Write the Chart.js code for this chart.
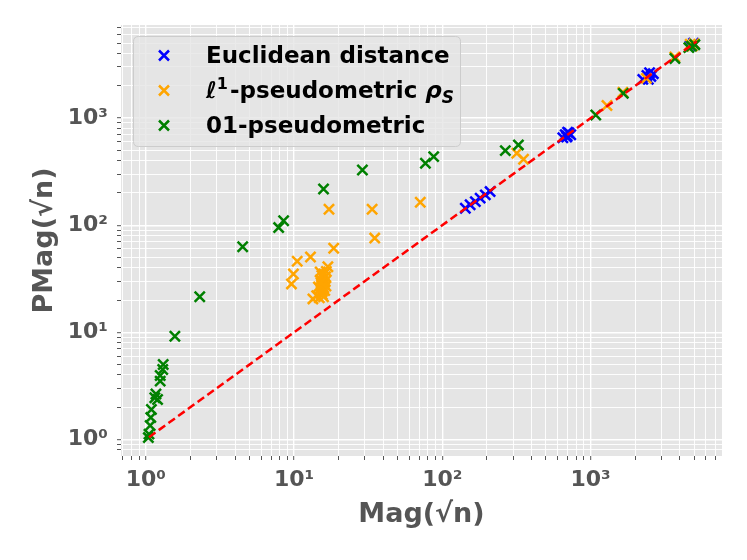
<!DOCTYPE html>
<html>
<head>
<meta charset="utf-8">
<script src="https://cdn.jsdelivr.net/npm/chart.js@4.4.0/dist/chart.umd.min.js"></script>
<style>
  html, body { margin: 0; padding: 0; background: #ffffff; }
</style>
</head>
<body>
<canvas id="magCanvas" width="747" height="560"></canvas>
<script>
// [Mag, PMag] pairs
var euclideanPoints = [
  [143, 144], [154, 155], [167, 166], [180, 179], [195, 192], [210, 206],
  [650, 655], [675, 700], [695, 680], [715, 725], [735, 700], [700, 740], [690, 665],
  [2250, 2300], [2400, 2500], [2550, 2450], [2450, 2300], [2650, 2600], [2500, 2650],
  [4700, 4750], [4950, 5000]
];

var l1Points = [
  [9.6, 28.3], [9.9, 35], [10.5, 46], [12.9, 50.4], [17.2, 141], [18.5, 61],
  [33.6, 141], [35, 75.8], [71, 164], [318, 470], [353, 413],
  [13.4, 20.5], [14.2, 22], [14.8, 21], [15.2, 23], [15.5, 24], [15.0, 25.5],
  [15.8, 26], [15.3, 27.5], [16.0, 28], [15.6, 29.5], [16.2, 30], [15.1, 31],
  [15.7, 32], [16.3, 33], [15.4, 34], [15.9, 35], [15.0, 36.5], [16.5, 37],
  [16.9, 41], [15.5, 22.5], [16.1, 24.5], [14.6, 26.5], [16.4, 27], [15.2, 29],
  [15.8, 21.5],
  [1290, 1310], [1650, 1740], [2380, 2350], [3700, 3730],
  [4700, 4900], [5000, 4950], [4850, 4700]
];

var zeroOnePoints = [
  [1.04, 1.04], [1.05, 1.12], [1.07, 1.35], [1.08, 1.6], [1.09, 1.9],
  [1.15, 2.45], [1.20, 2.36], [1.17, 2.65], [1.25, 3.5], [1.25, 3.95],
  [1.30, 4.5], [1.31, 5.0], [1.57, 9.2], [2.31, 21.5], [4.5, 63],
  [7.87, 95], [8.5, 110], [15.8, 218], [28.9, 328], [76.9, 379], [87.4, 437],
  [266, 497], [326, 562], [1084, 1069], [1663, 1702], [3707, 3600],
  [4600, 4550], [4800, 4700], [5050, 4850]
];

var identityLine = [[1.05, 1.05], [5200, 5200]];

var decadeValues = [1, 10, 100, 1000];
var decadeLabels = ["10\u2070", "10\u00b9", "10\u00b2", "10\u00b3"];

var xRange = [0.68, 7700];
var yRange = [0.71, 7400];

function toXY(list) {
  return list.map(function (p) { return { x: p[0], y: p[1] }; });
}

// 1..9 x 10^k inside the range, like matplotlib minor + major ticks
function logTicks(min, max) {
  var out = [];
  for (var e = -1; e <= 4; e++) {
    for (var m = 1; m <= 9; m++) {
      var v = m * Math.pow(10, e);
      if (v >= min && v <= max) out.push({ value: v });
    }
  }
  return out;
}

function isDecade(v) {
  return decadeValues.some(function (d) { return Math.abs(d - v) < 1e-9 * d; });
}

function decadeLabel(v) {
  for (var i = 0; i < decadeValues.length; i++) {
    if (Math.abs(decadeValues[i] - v) < 1e-9 * decadeValues[i]) return decadeLabels[i];
  }
  return "";
}

var greyText = "#555555";

var panelBackground = {
  id: "panelBackground",
  beforeDraw: function (chart) {
    var a = chart.chartArea;
    var ctx = chart.ctx;
    ctx.save();
    ctx.fillStyle = "#ffffff";
    ctx.fillRect(0, 0, chart.width, chart.height);
    ctx.fillStyle = "#E5E5E5";
    ctx.fillRect(a.left, a.top, a.right - a.left, a.bottom - a.top);
    ctx.restore();
  }
};

var legendRows = [
  { color: "#0000FF", parts: [{ t: "Euclidean distance", f: "bold 23px 'DejaVu Sans'", dy: 0 }] },
  { color: "#FFA500", parts: [
    { t: "\u2113", f: "italic bold 23px 'DejaVu Sans'", dy: 0 },
    { t: "1", f: "bold 16px 'DejaVu Sans'", dy: -9 },
    { t: "-pseudometric ", f: "bold 23px 'DejaVu Sans'", dy: 0 },
    { t: "\u03c1", f: "italic bold 23px 'DejaVu Sans'", dy: 0 },
    { t: "S", f: "italic bold 17px 'DejaVu Sans'", dy: 5 }
  ] },
  { color: "#008000", parts: [{ t: "01-pseudometric", f: "bold 23px 'DejaVu Sans'", dy: 0 }] }
];

var boxLegend = {
  id: "boxLegend",
  afterDraw: function (chart) {
    var ctx = chart.ctx;
    var bx = 133.5, by = 36.5, bw = 327, bh = 110, r = 5;
    ctx.save();
    ctx.beginPath();
    ctx.moveTo(bx + r, by);
    ctx.lineTo(bx + bw - r, by);
    ctx.quadraticCurveTo(bx + bw, by, bx + bw, by + r);
    ctx.lineTo(bx + bw, by + bh - r);
    ctx.quadraticCurveTo(bx + bw, by + bh, bx + bw - r, by + bh);
    ctx.lineTo(bx + r, by + bh);
    ctx.quadraticCurveTo(bx, by + bh, bx, by + bh - r);
    ctx.lineTo(bx, by + r);
    ctx.quadraticCurveTo(bx, by, bx + r, by);
    ctx.closePath();
    ctx.fillStyle = "rgba(229,229,229,0.8)";
    ctx.fill();
    ctx.strokeStyle = "#cccccc";
    ctx.lineWidth = 1;
    ctx.stroke();

    ctx.textBaseline = "alphabetic";
    ctx.textAlign = "left";
    legendRows.forEach(function (row, i) {
      var base = 62.5 + i * 35;
      var mx = 164, my = base - 7, h = 5;
      ctx.strokeStyle = row.color;
      ctx.lineWidth = 2.5;
      ctx.beginPath();
      ctx.moveTo(mx - h, my - h); ctx.lineTo(mx + h, my + h);
      ctx.moveTo(mx - h, my + h); ctx.lineTo(mx + h, my - h);
      ctx.stroke();
      var x = 206;
      ctx.fillStyle = "#000000";
      row.parts.forEach(function (p) {
        ctx.font = p.f;
        ctx.fillText(p.t, x, base + p.dy);
        x += ctx.measureText(p.t).width + (p.dy < 0 ? 2 : 0);
      });
    });
    ctx.restore();
  }
};

function crossSet(label, points, color, order) {
  return {
    label: label,
    data: toXY(points),
    pointStyle: "crossRot",
    pointRadius: 7.2,
    pointHoverRadius: 7.2,
    pointBorderWidth: 2.5,
    pointBorderColor: color,
    pointBackgroundColor: color,
    borderColor: color,
    backgroundColor: color,
    order: order
  };
}

function gridWidth(c) {
  return c.tick && isDecade(c.tick.value) ? 1.4 : 0.9;
}

var ctx = document.getElementById("magCanvas").getContext("2d");

var magChart = new Chart(ctx, {
  type: "scatter",
  data: {
    datasets: [
      {
        label: "Mag = PMag",
        data: toXY(identityLine),
        showLine: true,
        borderColor: "#FF0000",
        borderWidth: 2.5,
        borderDash: [8, 4],
        pointRadius: 0,
        pointHoverRadius: 0,
        order: 0
      },
      crossSet("01-pseudometric", zeroOnePoints, "#008000", 1),
      crossSet("l1-pseudometric rho_S", l1Points, "#FFA500", 2),
      crossSet("Euclidean distance", euclideanPoints, "#0000FF", 3)
    ]
  },
  options: {
    responsive: false,
    animation: false,
    events: [],
    layout: { padding: { top: 25, right: 25, left: 0, bottom: 0 } },
    plugins: {
      legend: { display: false },
      tooltip: { enabled: false }
    },
    scales: {
      x: {
        type: "logarithmic",
        min: xRange[0],
        max: xRange[1],
        afterBuildTicks: function (s) { s.ticks = logTicks(xRange[0], xRange[1]); },
        afterFit: function (s) { s.height = 104; },
        border: { display: false },
        grid: {
          color: "#ffffff",
          lineWidth: gridWidth,
          drawTicks: true,
          tickLength: 4,
          tickColor: greyText,
          tickWidth: 1
        },
        ticks: {
          autoSkip: false,
          maxRotation: 0,
          padding: 7,
          color: greyText,
          font: { family: "DejaVu Sans", size: 22, weight: "bold" },
          callback: function (v) { return decadeLabel(v); }
        },
        title: {
          display: true,
          text: "Mag(\u221an)",
          color: greyText,
          font: { family: "DejaVu Sans", size: 27, weight: "bold" },
          padding: { top: 4, bottom: 29 }
        }
      },
      y: {
        type: "logarithmic",
        min: yRange[0],
        max: yRange[1],
        afterBuildTicks: function (s) { s.ticks = logTicks(yRange[0], yRange[1]); },
        afterFit: function (s) { s.width = 121; },
        border: { display: false },
        grid: {
          color: "#ffffff",
          lineWidth: gridWidth,
          drawTicks: true,
          tickLength: 4,
          tickColor: greyText,
          tickWidth: 1
        },
        ticks: {
          autoSkip: false,
          padding: 9,
          color: greyText,
          font: { family: "DejaVu Sans", size: 22, weight: "bold" },
          callback: function (v) { return decadeLabel(v); }
        },
        title: {
          display: true,
          text: "PMag(\u221an)",
          color: greyText,
          font: { family: "DejaVu Sans", size: 27, weight: "bold" },
          padding: { top: 29, bottom: 4 }
        }
      }
    }
  },
  plugins: [panelBackground, boxLegend]
});
</script>
</body>
</html>
